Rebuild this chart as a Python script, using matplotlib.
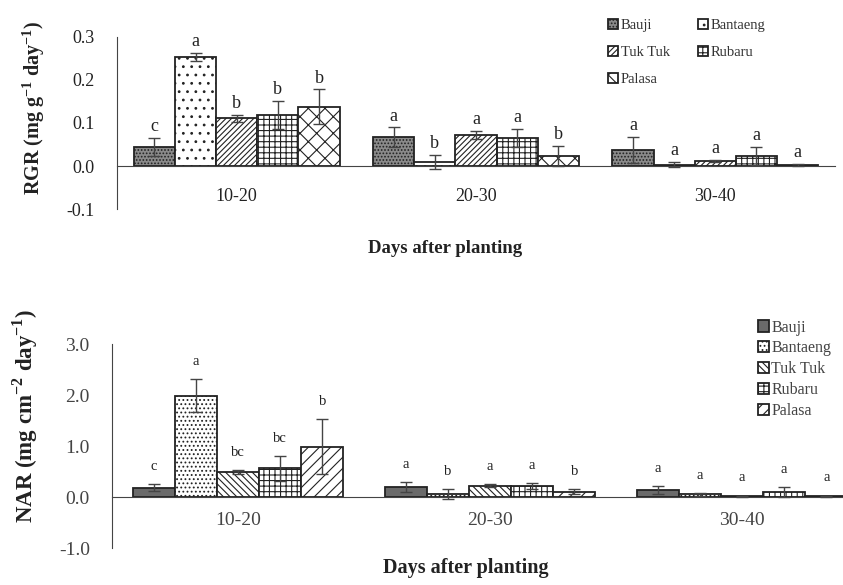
import numpy as np
import matplotlib
matplotlib.use('Agg')
import matplotlib.pyplot as plt

plt.rcParams['font.family'] = ['Liberation Serif', 'DejaVu Serif']
plt.rcParams['mathtext.fontset'] = 'custom'
plt.rcParams['mathtext.rm'] = 'Liberation Serif'
plt.rcParams['mathtext.bf'] = 'Liberation Serif:bold'
plt.rcParams['hatch.linewidth'] = 0.8

#   data
periods = ['10-20', '20-30', '30-40']
varieties = ['Bauji', 'Bantaeng', 'Tuk Tuk', 'Rubaru', 'Palasa']

rgr = [[0.044, 0.067, 0.037],
       [0.253, 0.010, 0.003],
       [0.111, 0.072, 0.012],
       [0.119, 0.065, 0.023],
       [0.138, 0.023, 0.003]]
rgr_err = [[0.021, 0.023, 0.030],
           [0.010, 0.016, 0.006],
           [0.008, 0.009, 0.002],
           [0.032, 0.021, 0.021],
           [0.040, 0.024, 0.002]]
rgr_letters = [['c', 'a', 'a'],
               ['a', 'b', 'a'],
               ['b', 'a', 'a'],
               ['b', 'a', 'a'],
               ['b', 'b', 'a']]

nar = [[0.18, 0.20, 0.14],
       [1.99, 0.06, 0.05],
       [0.49, 0.22, 0.02],
       [0.56, 0.22, 0.10],
       [0.99, 0.10, 0.02]]
nar_err = [[0.07, 0.10, 0.08],
           [0.33, 0.10, 0.03],
           [0.04, 0.03, 0.01],
           [0.25, 0.06, 0.10],
           [0.54, 0.05, 0.01]]
nar_letters = [['c', 'a', 'a'],
               ['a', 'b', 'a'],
               ['bc', 'a', 'a'],
               ['bc', 'a', 'a'],
               ['b', 'b', 'a']]

#   styles for each variety
top_styles = [dict(facecolor='#8a8a8a', hatch='.....'),
              dict(facecolor='white', hatch='..'),
              dict(facecolor='white', hatch='//////'),
              dict(facecolor='white', hatch='+++'),
              dict(facecolor='white', hatch='xx')]
bot_styles = [dict(facecolor='#6a6a6a', hatch=''),
              dict(facecolor='white', hatch='....'),
              dict(facecolor='white', hatch='\\\\\\\\\\'),
              dict(facecolor='white', hatch='+++'),
              dict(facecolor='white', hatch='///')]

text_color = '#222222'

fig = plt.figure(figsize=(8.43, 5.85), dpi=100)


def draw_panel(ax, values, errors, letters, styles, width, letter_size, letter_pad):
    x = np.arange(len(periods))
    handles = []
    for i, name in enumerate(varieties):
        pos = x + (i - 2) * width
        b = ax.bar(pos, values[i], width, edgecolor='#222222', linewidth=1.3,
                   label=name, **styles[i])
        ax.errorbar(pos, values[i], yerr=errors[i], fmt='none', ecolor='#444444',
                    elinewidth=1.0, capsize=4, capthick=1.0)
        for p, v, e, t in zip(pos, values[i], errors[i], letters[i]):
            ax.annotate(t, (p, v + e), xytext=(0, letter_pad), textcoords='offset points',
                        ha='center', va='bottom', fontsize=letter_size, color=text_color)
        handles.append(b)
    ax.set_xlim(-0.5, len(periods) - 0.5)
    ax.set_xticks(x)
    ax.set_xticklabels(periods)
    ax.spines['top'].set_visible(False)
    ax.spines['right'].set_visible(False)
    ax.spines['bottom'].set_position(('data', 0))
    ax.spines['left'].set_color('#444444')
    ax.spines['bottom'].set_color('#444444')
    return handles


#   RGR panel
ax1 = fig.add_axes([0.1388, 0.6427, 0.8517, 0.2941])
h1 = draw_panel(ax1, rgr, rgr_err, rgr_letters, top_styles, 0.172, 13, 2)
ax1.set_ylim(-0.1, 0.3)
ax1.set_yticks([-0.1, 0.0, 0.1, 0.2, 0.3])
ax1.set_yticklabels(['-0.1', '0.0', '0.1', '0.2', '0.3'])
ax1.tick_params(axis='y', length=0, pad=16, labelsize=13, labelcolor=text_color)
ax1.tick_params(axis='x', length=0, pad=16, labelsize=13, labelcolor=text_color)
ax1.set_ylabel(r'RGR (mg g$^{\mathbf{-1}}$ day$^{\mathbf{-1}}$)', fontsize=14.5,
               fontweight='bold', color=text_color)
ax1.yaxis.set_label_coords(-0.097, 0.59)
order = [0, 2, 4, 1, 3]
ax1.legend([h1[k] for k in order], [varieties[k] for k in order], ncol=2,
           loc='upper left', bbox_to_anchor=(0.665, 1.18), frameon=False,
           fontsize=10.5, handlelength=0.7, handleheight=0.7, handletextpad=0.2,
           labelspacing=0.95, columnspacing=1.9, labelcolor='#333333')
fig.text(0.528, 0.576, 'Days after planting', ha='center', va='center',
         fontsize=13.5, fontweight='bold', color=text_color)

#   NAR panel
ax2 = fig.add_axes([0.1329, 0.0632, 0.8968, 0.3487])
h2 = draw_panel(ax2, nar, nar_err, nar_letters, bot_styles, 0.167, 10.5, 8)
ax2.set_ylim(-1.0, 3.0)
ax2.set_yticks([-1.0, 0.0, 1.0, 2.0, 3.0])
ax2.set_yticklabels(['-1.0', '0.0', '1.0', '2.0', '3.0'])
ax2.tick_params(axis='y', length=0, pad=16, labelsize=14, labelcolor='#444444')
ax2.tick_params(axis='x', length=0, pad=11, labelsize=14, labelcolor='#444444')
ax2.set_ylabel(r'NAR (mg cm$^{\mathbf{-2}}$ day$^{\mathbf{-1}}$)', fontsize=16.5,
               fontweight='bold', color=text_color)
ax2.yaxis.set_label_coords(-0.095, 0.647)
ax2.legend(h2, varieties, loc='upper left', bbox_to_anchor=(0.835, 1.19),
           frameon=False, fontsize=11.5, handlelength=0.7, handleheight=0.7,
           handletextpad=0.15, labelspacing=0.3, labelcolor='#444444')
fig.text(0.552, 0.029, 'Days after planting', ha='center', va='center',
         fontsize=14.5, fontweight='bold', color=text_color)

fig.savefig('out.png', dpi=100)
